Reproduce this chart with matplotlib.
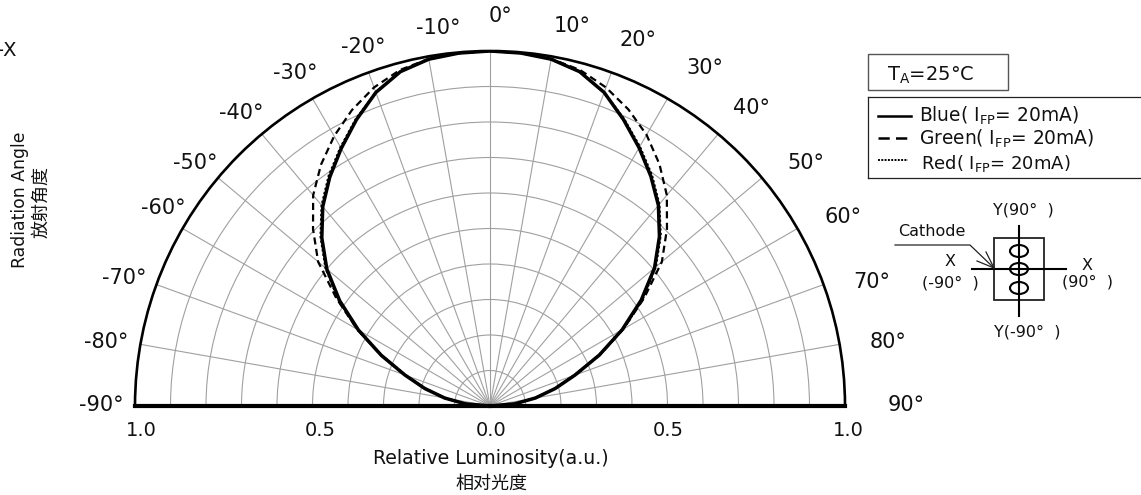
import matplotlib

matplotlib.use("Agg")
import matplotlib.pyplot as plt
import numpy as np
from matplotlib.patches import Ellipse, Rectangle

W, H = 1141, 495
CJK = ["Noto Sans CJK SC", "DejaVu Sans"]

plt.rcParams["font.family"] = ["DejaVu Sans"]
plt.rcParams["mathtext.default"] = "regular"

angles_deg = [-90, -85, -80, -75, -70, -65, -60, -55, -50, -45, -40, -35, -30, -25, -20, -15, -10, -5, 0,
              5, 10, 15, 20, 25, 30, 35, 40, 45, 50, 55, 60, 65, 70, 75, 80, 85, 90]
blue = [0.0, 0.07, 0.13, 0.19, 0.255, 0.338, 0.428, 0.517, 0.60, 0.67, 0.733, 0.787, 0.838, 0.89, 0.94, 0.975, 0.992, 0.998, 1.0,
        0.998, 0.992, 0.975, 0.94, 0.89, 0.84, 0.79, 0.738, 0.675, 0.605, 0.52, 0.43, 0.34, 0.255, 0.19, 0.13, 0.07, 0.0]
green = [0.0, 0.07, 0.13, 0.19, 0.255, 0.34, 0.432, 0.528, 0.632, 0.705, 0.775, 0.83, 0.878, 0.92, 0.955, 0.98, 0.993, 0.998, 1.0,
         0.998, 0.993, 0.98, 0.955, 0.922, 0.882, 0.832, 0.775, 0.705, 0.632, 0.53, 0.434, 0.342, 0.255, 0.19, 0.13, 0.07, 0.0]
red = [0.0, 0.07, 0.128, 0.188, 0.252, 0.336, 0.432, 0.522, 0.605, 0.675, 0.738, 0.792, 0.842, 0.893, 0.94, 0.975, 0.992, 0.998, 1.0,
       0.998, 0.992, 0.975, 0.94, 0.893, 0.844, 0.795, 0.742, 0.68, 0.61, 0.525, 0.434, 0.338, 0.252, 0.188, 0.128, 0.07, 0.0]

grid_angles = list(range(-90, 100, 10))
grid_radii = [0.1, 0.2, 0.3, 0.4, 0.5, 0.6, 0.7, 0.8, 0.9]

angle_labels = ["-90°", "-80°", "-70°", "-60°", "-50°", "-40°", "-30°", "-20°", "-10°", "0°",
                "10°", "20°", "30°", "40°", "50°", "60°", "70°", "80°", "90°"]
angle_label_x = [101, 106, 124, 163, 195, 241, 295, 363, 438, 500, 572, 638, 705, 752, 806, 843, 872, 888, 906]
angle_label_y = [405, 342, 278, 208, 163, 113, 73, 47, 28, 16, 26, 40, 68, 108, 163, 217, 282, 342, 405]
radial_labels = ["1.0", "0.5", "0.0", "0.5", "1.0"]
radial_label_x = [141, 320, 491, 668, 848]

fig = plt.figure(figsize=(W / 100, H / 100), dpi=100)

# the half disc is centred in a square box, so the box is 710 px tall around y=228.5
ax = fig.add_axes([135 / W, (H - 583.5) / H, 710 / W, 710 / H], projection="polar")
ax.set_theta_zero_location("N")
ax.set_theta_direction(-1)
ax.set_thetamin(-90)
ax.set_thetamax(90)
ax.set_ylim(0, 1)
ax.set_xticks(np.deg2rad(grid_angles))
ax.set_yticks(grid_radii)
ax.set_xticklabels([])
ax.set_yticklabels([])
ax.tick_params(length=0)
ax.grid(True, color="#a0a0a0", linewidth=0.8)

theta = np.deg2rad(angles_deg)
ax.plot(theta, red, color="black", linewidth=1.6, linestyle=(0, (1, 1)))
ax.plot(theta, green, color="black", linewidth=1.6, linestyle=(0, (3.2, 2)))
ax.plot(theta, blue, color="black", linewidth=2.5)

ax.spines["polar"].set_linewidth(1.9)
ax.spines["start"].set_linewidth(3.0)
ax.spines["end"].set_linewidth(3.0)
for spine in ax.spines.values():
    spine.set_color("black")

# pixel overlay for labels, legend box and the package sketch
ov = fig.add_axes([0, 0, 1, 1], facecolor="none")
ov.set_xlim(0, W)
ov.set_ylim(H, 0)
ov.axis("off")


def label(x, y, s, size=11, **kw):
    kw.setdefault("ha", "center")
    kw.setdefault("va", "center")
    ov.text(x, y, s, fontsize=size, color="#111111", **kw)


for x, y, s in zip(angle_label_x, angle_label_y, angle_labels):
    label(x, y, s, size=15)
for x, s in zip(radial_label_x, radial_labels):
    label(x, 430, s, size=14)

label(491, 459, "Relative Luminosity(a.u.)", size=13.6)
label(491, 484, "相对光度", size=13, family=CJK)
label(20, 200, "Radiation Angle", size=12.4, rotation=90)
label(41, 202, "放射角度", size=13, family=CJK, rotation=90)
label(16, 50, "-X", size=14, ha="right")

# condition box and legend
ov.add_patch(Rectangle((868, 54), 140, 36, fill=False, edgecolor="#555555", linewidth=1))
label(887, 75, "T$_{A}$=25°C", size=14, ha="left")
ov.plot([868, 1150, np.nan, 868, 868, np.nan, 868, 1150], [97, 97, np.nan, 97, 178, np.nan, 178, 178],
        color="#222222", linewidth=0.9, clip_on=False)
ov.plot([878, 911], [116, 116], color="black", linewidth=1.8)
ov.plot([878, 908], [138, 138], color="black", linewidth=1.8, linestyle=(0, (4.5, 2.5)))
ov.plot([878, 908], [160, 160], color="black", linewidth=1.4, linestyle=(0, (1, 0.7)))
label(919, 116, "Blue( I$_{FP}$= 20mA)", size=13.4, ha="left")
label(919, 139, "Green( I$_{FP}$= 20mA)", size=13.4, ha="left")
label(921, 163, "Red( I$_{FP}$= 20mA)", size=13, ha="left")

# package sketch
ov.add_patch(Rectangle((994, 238), 50, 62, fill=False, edgecolor="#222222", linewidth=1.3))
ov.plot([1019, 1019], [226, 316], color="black", linewidth=1.5)
ov.plot([972, 1066], [269, 269], color="black", linewidth=1.5)
for yc in [251, 269, 288]:
    ov.add_patch(Ellipse((1019, yc), 18, 12, fill=False, edgecolor="black", linewidth=1.5))
ov.plot([895, 970, 994], [245, 245, 268], color="#222222", linewidth=0.9)
ov.plot([986, 994, 977], [252, 268, 261], color="#222222", linewidth=0.9)
label(932, 231, "Cathode", size=11.5)
label(950, 262, "X", size=11.5)
label(950, 283, "(-90°  )", size=11.5)
label(1087, 265, "X", size=11.5)
label(1087, 282, "(90°  )", size=11.5)
label(1023, 210, "Y(90°  )", size=11.5)
label(1027, 332, "Y(-90°  )", size=11.5)

fig.savefig("out.png", dpi=100)
plt.close(fig)
